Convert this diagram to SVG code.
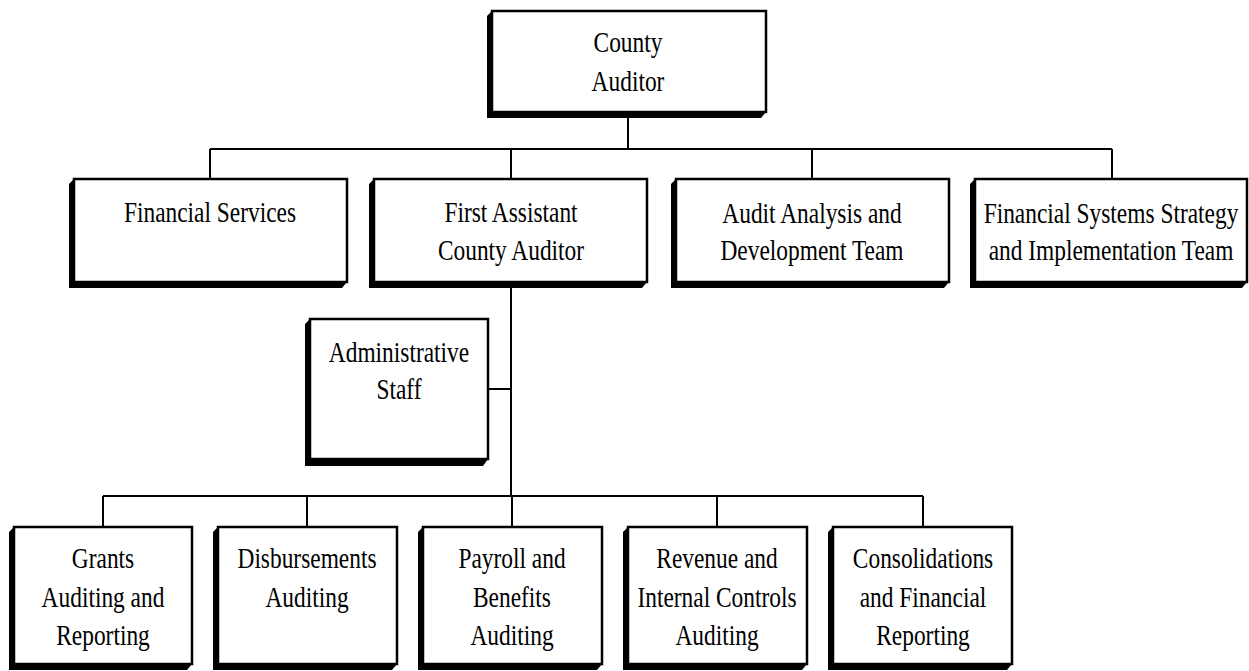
<svg xmlns="http://www.w3.org/2000/svg" width="1249" height="671" viewBox="0 0 1249 671">
<style>
.box{fill:#fff;stroke:#000;stroke-width:2.5}
.sh{fill:#000}
.t{font-family:"Liberation Serif","Times New Roman",serif;font-size:30px;fill:#000;text-anchor:middle}
.c{fill:none;stroke:#000;stroke-width:2}
</style>
<rect width="1249" height="671" fill="#fff"/>
<g id="connectors">
<path class="c" d="M628 118V149M210 149H1112M210 149V179M511 149V179M812 149V179M1112 149V179"/>
<path class="c" d="M511 288V496M488 389H511M103 496H923M103 496V527M307 496V527M512 496V527M717 496V527M923 496V527"/>
</g>
<g id="county-auditor">
<polygon class="sh" points="492,11 487,16 487,118 761,118 766,112"/>
<rect class="box" x="492" y="11" width="274" height="101"/>
<text class="t" transform="translate(628,0) scale(0.78,1)"><tspan x="0" y="52">County</tspan><tspan x="0" y="91">Auditor</tspan></text>
</g>
<g id="financial-services">
<polygon class="sh" points="74,179 69,184 69,288 342,288 347,282"/>
<rect class="box" x="74" y="179" width="273" height="103"/>
<text class="t" transform="translate(210,0) scale(0.78,1)"><tspan x="0" y="222">Financial Services</tspan></text>
</g>
<g id="first-assistant">
<polygon class="sh" points="374,179 369,184 369,288 642,288 647,282"/>
<rect class="box" x="374" y="179" width="273" height="103"/>
<text class="t" transform="translate(511,0) scale(0.78,1)"><tspan x="0" y="222">First Assistant</tspan><tspan x="0" y="260">County Auditor</tspan></text>
</g>
<g id="audit-analysis">
<polygon class="sh" points="676,179 671,184 671,288 944,288 949,282"/>
<rect class="box" x="676" y="179" width="273" height="103"/>
<text class="t" transform="translate(812,0) scale(0.78,1)"><tspan x="0" y="223">Audit Analysis and</tspan><tspan x="0" y="260">Development Team</tspan></text>
</g>
<g id="financial-systems">
<polygon class="sh" points="975,179 970,184 970,288 1242,288 1247,282"/>
<rect class="box" x="975" y="179" width="272" height="103"/>
<text class="t" transform="translate(1111,0) scale(0.78,1)"><tspan x="0" y="223">Financial Systems Strategy</tspan><tspan x="0" y="260">and Implementation Team</tspan></text>
</g>
<g id="administrative-staff">
<polygon class="sh" points="310,319 305,324 305,466 483,466 488,459"/>
<rect class="box" x="310" y="319" width="178" height="140"/>
<text class="t" transform="translate(399,0) scale(0.78,1)"><tspan x="0" y="362">Administrative</tspan><tspan x="0" y="399">Staff</tspan></text>
</g>
<g id="grants">
<polygon class="sh" points="14,527 9,532 9,670 187,670 192,664"/>
<rect class="box" x="14" y="527" width="178" height="137"/>
<text class="t" transform="translate(103,0) scale(0.78,1)"><tspan x="0" y="568">Grants</tspan><tspan x="0" y="607">Auditing and</tspan><tspan x="0" y="645">Reporting</tspan></text>
</g>
<g id="disbursements">
<polygon class="sh" points="218,527 213,532 213,670 392,670 397,664"/>
<rect class="box" x="218" y="527" width="179" height="137"/>
<text class="t" transform="translate(307,0) scale(0.78,1)"><tspan x="0" y="568">Disbursements</tspan><tspan x="0" y="607">Auditing</tspan></text>
</g>
<g id="payroll">
<polygon class="sh" points="423,527 418,532 418,670 597,670 602,664"/>
<rect class="box" x="423" y="527" width="179" height="137"/>
<text class="t" transform="translate(512,0) scale(0.78,1)"><tspan x="0" y="568">Payroll and</tspan><tspan x="0" y="607">Benefits</tspan><tspan x="0" y="645">Auditing</tspan></text>
</g>
<g id="revenue">
<polygon class="sh" points="628,527 623,532 623,670 802,670 807,664"/>
<rect class="box" x="628" y="527" width="179" height="137"/>
<text class="t" transform="translate(717,0) scale(0.78,1)"><tspan x="0" y="568">Revenue and</tspan><tspan x="0" y="607">Internal Controls</tspan><tspan x="0" y="645">Auditing</tspan></text>
</g>
<g id="consolidations">
<polygon class="sh" points="833,527 828,532 828,670 1007,670 1012,664"/>
<rect class="box" x="833" y="527" width="179" height="137"/>
<text class="t" transform="translate(923,0) scale(0.78,1)"><tspan x="0" y="568">Consolidations</tspan><tspan x="0" y="607">and Financial</tspan><tspan x="0" y="645">Reporting</tspan></text>
</g>
</svg>
